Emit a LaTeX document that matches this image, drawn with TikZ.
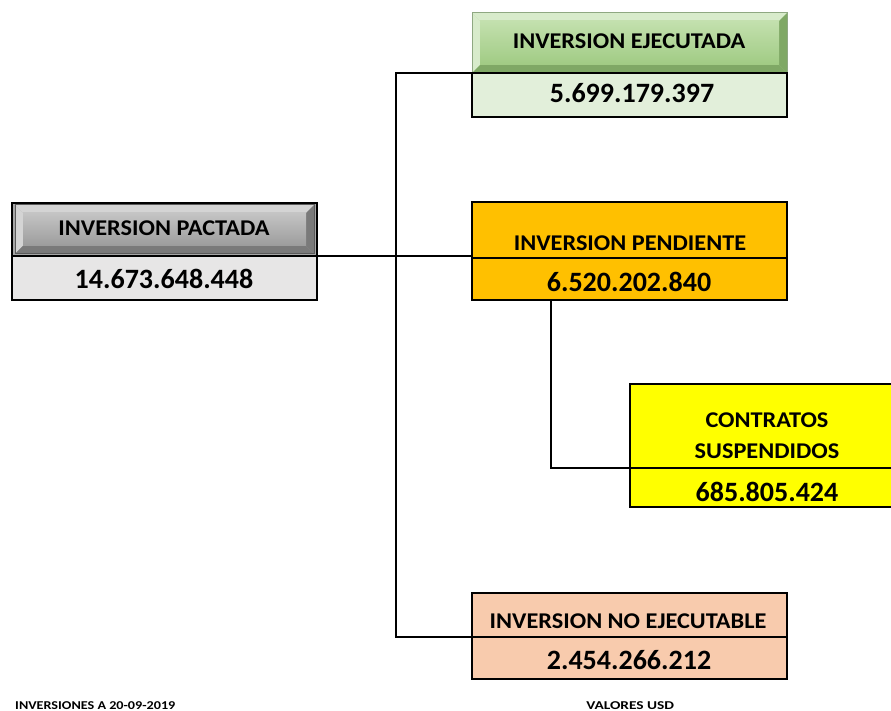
\documentclass[tikz,border=0pt]{standalone}
\usepackage{fontspec}
\setmainfont{Carlito}
\definecolor{pactV}{HTML}{E7E6E6}
\definecolor{ejV}{HTML}{E2EFDA}
\definecolor{penF}{HTML}{FFC000}
\definecolor{conF}{HTML}{FFFF00}
\definecolor{neF}{HTML}{F8CBAD}
\definecolor{gBase}{HTML}{A6A6A6}
\definecolor{gLight}{HTML}{D4D4D4}
\definecolor{gDark}{HTML}{7A7A7A}
\definecolor{gEdge}{HTML}{5A5A5A}
\definecolor{gTop}{HTML}{C4C4C4}
\definecolor{gBot}{HTML}{9C9C9C}
\definecolor{vBase}{HTML}{A9D18E}
\definecolor{vLight}{HTML}{D8EBCB}
\definecolor{vDark}{HTML}{7FA865}
\definecolor{vEdge}{HTML}{8FA882}
\definecolor{vTop}{HTML}{C3E0AE}
\definecolor{vBot}{HTML}{A0CB83}
\newcommand\bevelbtn[8]{%
  % #1 x1, #2 y1, #3 x2, #4 y2, #5 light, #6 dark, #7 top, #8 bottom
  \fill[#5] (#1,#2) -- (#3,#2) -- (#3-8,#2+8) -- (#1+8,#2+8) -- cycle;
  \fill[#5] (#1,#2) -- (#1+8,#2+8) -- (#1+8,#4-8) -- (#1,#4) -- cycle;
  \fill[#6] (#1,#4) -- (#3,#4) -- (#3-8,#4-8) -- (#1+8,#4-8) -- cycle;
  \fill[#6] (#3,#2) -- (#3,#4) -- (#3-8,#4-8) -- (#3-8,#2+8) -- cycle;
  \shade[top color=#7, bottom color=#8] (#1+8,#2+8) rectangle (#3-8,#4-8);
}
\begin{document}
\begin{tikzpicture}[x=1pt,y=-1pt,
  part/.style={draw=black, line width=2pt, inner sep=0pt, outer sep=0pt, anchor=north west},
  thinpart/.style={draw=black, line width=1.2pt, inner sep=0pt, outer sep=0pt, anchor=north west},
  hdr/.style={font=\fontsize{22.5}{24}\selectfont\bfseries, anchor=base, inner sep=0pt, xscale=1.08, transform shape},
  val/.style={font=\fontsize{28}{30}\selectfont\bfseries, anchor=base, inner sep=0pt},
  foot/.style={font=\fontsize{12}{13}\selectfont\bfseries, anchor=base west, inner sep=0pt, transform shape},
  link/.style={draw=black, line width=1.8pt}]
\useasboundingbox (0,0) rectangle (891,711);

% ---- INVERSION PACTADA
\fill[gBase] (12,203) rectangle (317,256);
\bevelbtn{15}{205}{314}{254}{gLight}{gDark}{gTop}{gBot}
\draw[gEdge, line width=1pt] (15,205) rectangle (314,254);
\node[part, minimum width=305pt, minimum height=53pt] (pactH) at (12,203) {};
\node[part, fill=pactV, minimum width=305pt, minimum height=44pt] (pactV) at (12,256) {};
\node[hdr] (pactHt) at (164,235.5) {INVERSION PACTADA};
\node[val] (pactVt) at (164,288) {14.673.648.448};

% ---- INVERSION EJECUTADA
\fill[vBase] (472,13) rectangle (787,73);
\bevelbtn{472}{13}{787}{73}{vLight}{vDark}{vTop}{vBot}
\draw[vEdge, line width=1pt] (472,13) rectangle (787,73);
\node[inner sep=0pt, outer sep=0pt, anchor=north west, minimum width=315pt, minimum height=60pt] (ejH) at (472,13) {};
\node[part, fill=ejV, minimum width=315pt, minimum height=44pt] (ejV) at (472,73) {};
\node[hdr] (ejHt) at (629,48.5) {INVERSION EJECUTADA};
\node[val] (ejVt) at (632,103) {5.699.179.397};

% ---- INVERSION PENDIENTE
\node[part, fill=penF, minimum width=315pt, minimum height=98pt] (pen) at (472,202) {};
\node[thinpart, minimum width=315pt, minimum height=42pt] (penV) at (472,258) {};
\node[hdr] (penHt) at (630,250.5) {INVERSION PENDIENTE};
\node[val] (penVt) at (629,291) {6.520.202.840};

% ---- CONTRATOS SUSPENDIDOS
\node[part, fill=conF, minimum width=280pt, minimum height=123pt] (con) at (630,384) {};
\node[thinpart, minimum width=280pt, minimum height=39pt] (conV) at (630,468) {};
\node[hdr] (conHt1) at (767,427.5) {CONTRATOS};
\node[hdr] (conHt2) at (767,458.5) {SUSPENDIDOS};
\node[val] (conVt) at (767,501) {685.805.424};

% ---- INVERSION NO EJECUTABLE
\node[part, fill=neF, minimum width=315pt, minimum height=86pt] (ne) at (472,593) {};
\node[thinpart, minimum width=315pt, minimum height=42pt] (neV) at (472,637) {};
\node[hdr] (neHt) at (628,628.5) {INVERSION NO EJECUTABLE};
\node[val] (neVt) at (629,669) {2.454.266.212};

% ---- connectors
\coordinate (trunk) at (396,0);
\coordinate (penDrop) at (551,300);
\draw[link] (pactV.north east) -- (pactV.north east -| pen.west);
\draw[link] (ejV.north west) -| (trunk |- neV.north west) -- (neV.north west);
\draw[link] (penDrop) |- (conV.north west);

% ---- footer
\node[foot, xscale=1.18] (f1) at (15,709) {INVERSIONES A 20-09-2019};
\node[foot, xscale=1.28] (f2) at (586,709) {VALORES USD};
\end{tikzpicture}
\end{document}
